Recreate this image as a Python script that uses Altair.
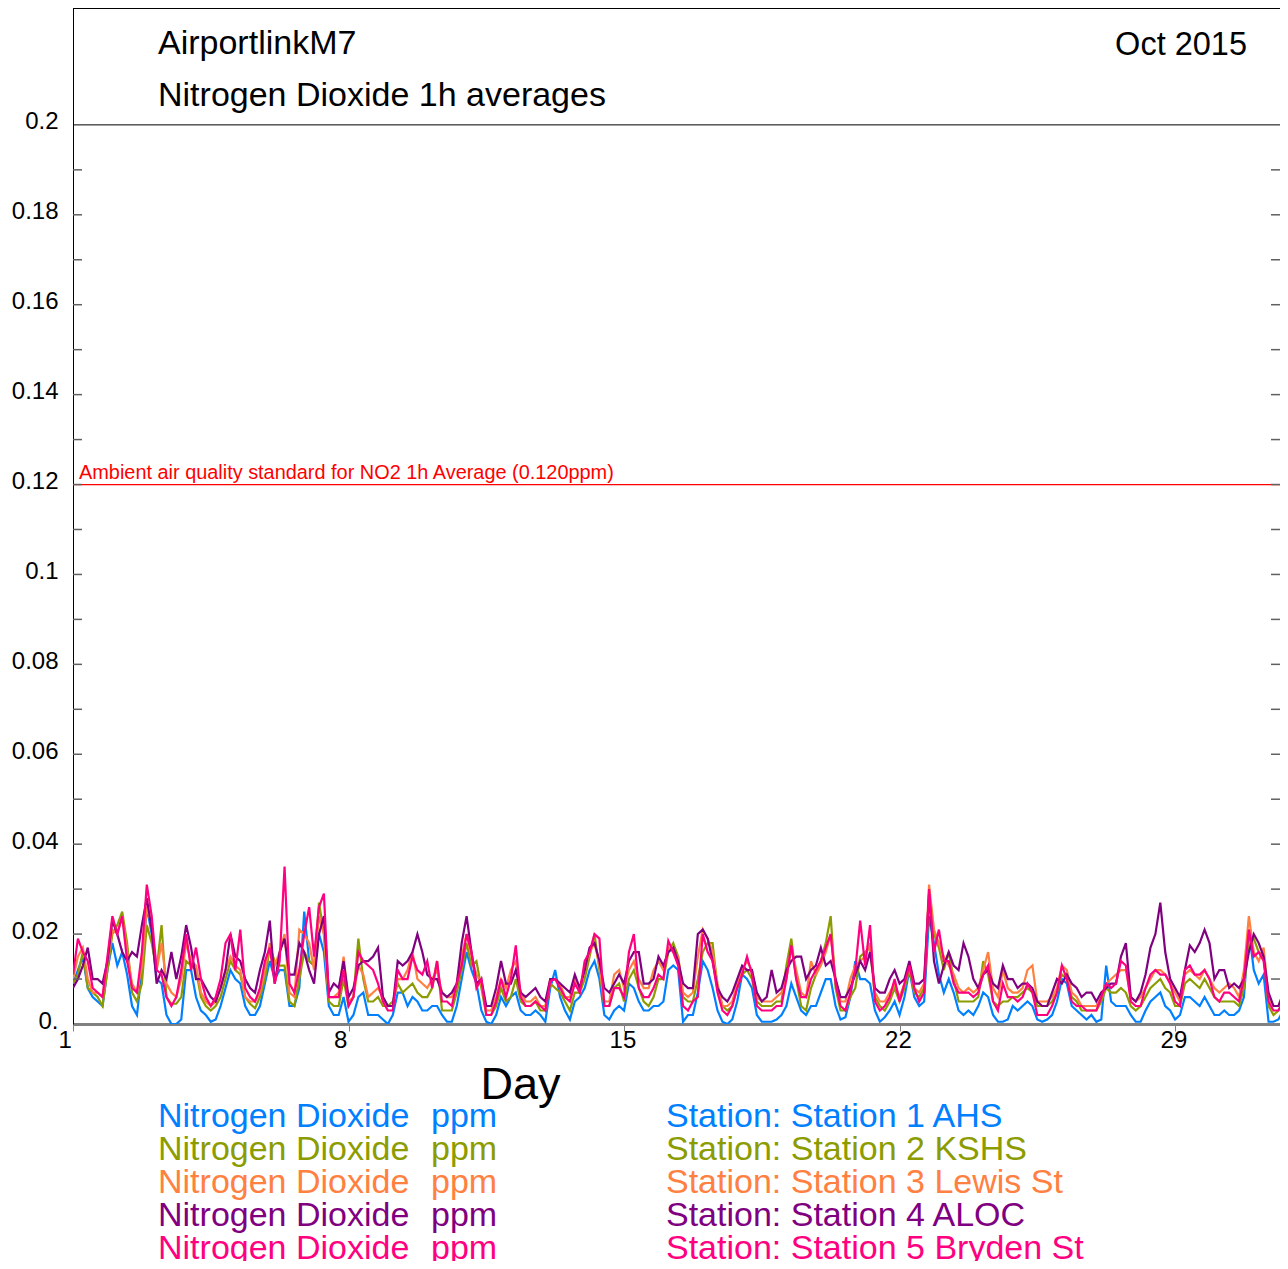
import altair as alt
import pandas as pd

# ---------------- data (3-hourly readings, day = 1 + k/8) ----------------
STATIONS = ["Station 1 AHS", "Station 2 KSHS", "Station 3 Lewis St",
            "Station 4 ALOC", "Station 5 Bryden St"]
COLORS = ["#0080FF", "#8C9C00", "#FF8040", "#800080", "#FF0080"]

S1 = [0.009, 0.012, 0.015, 0.008, 0.006, 0.005, 0.004, 0.012, 0.018, 0.013, 0.016, 0.011, 0.004, 0.002, 0.012, 0.026, 0.02, 0.01, 0.009, 0.002, 0.0, 0.0, 0.001, 0.012, 0.012, 0.006, 0.003, 0.002, 0.0005, 0.001, 0.004, 0.008, 0.012, 0.01, 0.009, 0.004, 0.002, 0.002, 0.004, 0.009, 0.014, 0.01,
      0.012, 0.012, 0.004, 0.004, 0.008, 0.025, 0.014, 0.013, 0.02, 0.016, 0.004, 0.002, 0.002, 0.006, 0.0005, 0.002, 0.006, 0.007, 0.002, 0.002, 0.002, 0.001, 0.0, 0.002, 0.007, 0.007, 0.004, 0.006, 0.005, 0.003, 0.003, 0.004, 0.004, 0.002, 0.0005, 0.0005, 0.004, 0.01, 0.016, 0.012, 0.009,
      0.003, 0.0005, 0.0, 0.002, 0.006, 0.004, 0.006, 0.007, 0.003, 0.002, 0.002, 0.003, 0.002, 0.0005, 0.008, 0.012, 0.006, 0.003, 0.001, 0.005, 0.006, 0.008, 0.012, 0.014, 0.01, 0.002, 0.001, 0.003, 0.004, 0.003, 0.009, 0.008, 0.005, 0.003, 0.003, 0.004, 0.004, 0.005, 0.012, 0.013, 0.012,
      0.0005, 0.002, 0.002, 0.007, 0.014, 0.012, 0.008, 0.003, 0.0005, 0.0, 0.001, 0.005, 0.011, 0.01, 0.008, 0.002, 0.0005, 0.0005, 0.0005, 0.001, 0.002, 0.004, 0.009, 0.006, 0.003, 0.002, 0.004, 0.004, 0.007, 0.01, 0.01, 0.004, 0.001, 0.0015, 0.006, 0.014, 0.01, 0.01, 0.009, 0.003, 0.0005,
      0.0015, 0.003, 0.005, 0.002, 0.006, 0.012, 0.006, 0.004, 0.005, 0.024, 0.018, 0.011, 0.007, 0.01, 0.007, 0.003, 0.002, 0.003, 0.002, 0.004, 0.007, 0.006, 0.002, 0.0005, 0.0005, 0.001, 0.004, 0.003, 0.004, 0.005, 0.004, 0.001, 0.0005, 0.001, 0.002, 0.005, 0.01, 0.009, 0.004, 0.003,
      0.002, 0.001, 0.002, 0.0005, 0.001, 0.013, 0.005, 0.004, 0.004, 0.004, 0.002, 0.0005, 0.0005, 0.003, 0.005, 0.006, 0.007, 0.004, 0.003, 0.001, 0.002, 0.006, 0.006, 0.005, 0.004, 0.006, 0.004, 0.002, 0.002, 0.003, 0.002, 0.002, 0.003, 0.006, 0.021, 0.012, 0.009, 0.011, 0.0005, 0.0005, 0.001, 0.003, 0.005]

S2 = [0.009, 0.011, 0.016, 0.008, 0.007, 0.006, 0.004, 0.012, 0.02, 0.022, 0.025, 0.018, 0.007, 0.005, 0.009, 0.022, 0.018, 0.012, 0.022, 0.006, 0.0045, 0.0045, 0.006, 0.014, 0.013, 0.012, 0.006, 0.004, 0.003, 0.004, 0.006, 0.01, 0.014, 0.012, 0.011, 0.006, 0.0045, 0.0035, 0.006, 0.01, 0.017, 0.014,
      0.013, 0.013, 0.005, 0.004, 0.01, 0.016, 0.014, 0.013, 0.027, 0.02, 0.005, 0.004, 0.004, 0.01, 0.004, 0.006, 0.019, 0.01, 0.005, 0.005, 0.006, 0.004, 0.004, 0.005, 0.009, 0.007, 0.008, 0.009, 0.007, 0.006, 0.006, 0.008, 0.014, 0.003, 0.003, 0.003, 0.007, 0.012, 0.018, 0.013, 0.014,
      0.008, 0.002, 0.002, 0.004, 0.008, 0.005, 0.006, 0.01, 0.005, 0.004, 0.004, 0.005, 0.003, 0.003, 0.009, 0.008, 0.007, 0.005, 0.003, 0.007, 0.007, 0.01, 0.015, 0.02, 0.012, 0.004, 0.004, 0.008, 0.009, 0.005, 0.01, 0.012, 0.008, 0.005, 0.004, 0.006, 0.01, 0.01, 0.016, 0.018, 0.015,
      0.006, 0.005, 0.005, 0.01, 0.016, 0.018, 0.018, 0.008, 0.004, 0.003, 0.004, 0.008, 0.011, 0.012, 0.01, 0.005, 0.004, 0.004, 0.004, 0.005, 0.005, 0.013, 0.019, 0.01, 0.004, 0.003, 0.008, 0.011, 0.014, 0.018, 0.024, 0.008, 0.003, 0.003, 0.006, 0.008, 0.015, 0.016, 0.017, 0.006, 0.004,
      0.003, 0.005, 0.008, 0.005, 0.008, 0.012, 0.007, 0.006, 0.008, 0.028, 0.02, 0.017, 0.012, 0.016, 0.01, 0.005, 0.005, 0.005, 0.005, 0.006, 0.014, 0.011, 0.005, 0.004, 0.005, 0.005, 0.006, 0.006, 0.007, 0.008, 0.007, 0.004, 0.004, 0.004, 0.005, 0.007, 0.011, 0.01, 0.006, 0.005,
      0.003, 0.003, 0.003, 0.003, 0.005, 0.008, 0.007, 0.007, 0.008, 0.007, 0.004, 0.003, 0.004, 0.006, 0.008, 0.009, 0.01, 0.008, 0.007, 0.004, 0.004, 0.009, 0.01, 0.009, 0.008, 0.01, 0.008, 0.006, 0.005, 0.005, 0.005, 0.005, 0.004, 0.008, 0.018, 0.019, 0.016, 0.015, 0.004, 0.002, 0.003, 0.005, 0.008]

S3 = [0.01, 0.015, 0.017, 0.01, 0.007, 0.007, 0.006, 0.014, 0.021, 0.02, 0.024, 0.016, 0.009, 0.007, 0.013, 0.026, 0.022, 0.012, 0.018, 0.009, 0.007, 0.006, 0.01, 0.018, 0.014, 0.013, 0.007, 0.005, 0.004, 0.005, 0.008, 0.012, 0.015, 0.013, 0.012, 0.006, 0.005, 0.005, 0.007, 0.012, 0.018, 0.013,
      0.016, 0.02, 0.007, 0.006, 0.021, 0.02, 0.018, 0.012, 0.024, 0.02, 0.006, 0.006, 0.007, 0.015, 0.005, 0.006, 0.013, 0.011, 0.006, 0.007, 0.008, 0.006, 0.004, 0.004, 0.01, 0.01, 0.012, 0.016, 0.01, 0.009, 0.008, 0.01, 0.012, 0.007, 0.006, 0.006, 0.009, 0.015, 0.02, 0.015, 0.011,
      0.009, 0.003, 0.003, 0.006, 0.01, 0.008, 0.012, 0.014, 0.007, 0.005, 0.005, 0.006, 0.004, 0.004, 0.01, 0.01, 0.009, 0.006, 0.006, 0.01, 0.008, 0.012, 0.016, 0.018, 0.013, 0.005, 0.005, 0.011, 0.012, 0.008, 0.012, 0.014, 0.01, 0.008, 0.008, 0.012, 0.014, 0.012, 0.017, 0.016, 0.015,
      0.007, 0.006, 0.007, 0.015, 0.021, 0.019, 0.016, 0.009, 0.004, 0.004, 0.005, 0.009, 0.012, 0.014, 0.012, 0.006, 0.005, 0.005, 0.005, 0.006, 0.007, 0.01, 0.017, 0.012, 0.007, 0.006, 0.014, 0.011, 0.013, 0.016, 0.02, 0.01, 0.005, 0.005, 0.01, 0.013, 0.014, 0.015, 0.018, 0.007, 0.005,
      0.005, 0.007, 0.009, 0.006, 0.009, 0.013, 0.008, 0.007, 0.009, 0.031, 0.021, 0.018, 0.015, 0.013, 0.011, 0.008, 0.007, 0.008, 0.007, 0.008, 0.012, 0.016, 0.008, 0.006, 0.012, 0.008, 0.007, 0.007, 0.008, 0.012, 0.013, 0.005, 0.005, 0.005, 0.006, 0.008, 0.013, 0.012, 0.007, 0.006,
      0.004, 0.004, 0.004, 0.004, 0.006, 0.009, 0.01, 0.011, 0.012, 0.012, 0.006, 0.005, 0.006, 0.008, 0.01, 0.012, 0.012, 0.011, 0.009, 0.007, 0.005, 0.011, 0.012, 0.011, 0.01, 0.012, 0.01, 0.008, 0.007, 0.008, 0.009, 0.008, 0.006, 0.012, 0.024, 0.016, 0.014, 0.017, 0.006, 0.004, 0.004, 0.006, 0.009]

S4 = [0.008, 0.01, 0.013, 0.017, 0.01, 0.01, 0.009, 0.014, 0.023, 0.02, 0.016, 0.014, 0.016, 0.015, 0.022, 0.028, 0.021, 0.009, 0.012, 0.01, 0.016, 0.01, 0.015, 0.022, 0.017, 0.01, 0.01, 0.008, 0.006, 0.005, 0.008, 0.012, 0.02, 0.015, 0.014, 0.01, 0.008, 0.007, 0.012, 0.016, 0.023, 0.009,
      0.016, 0.019, 0.011, 0.011, 0.018, 0.016, 0.012, 0.009, 0.02, 0.024, 0.007, 0.009, 0.008, 0.014, 0.006, 0.008, 0.013, 0.014, 0.014, 0.015, 0.017, 0.006, 0.004, 0.004, 0.014, 0.013, 0.014, 0.016, 0.02, 0.016, 0.011, 0.01, 0.01, 0.007, 0.006, 0.007, 0.009, 0.018, 0.024, 0.016, 0.009,
      0.01, 0.004, 0.004, 0.008, 0.014, 0.009, 0.009, 0.012, 0.007, 0.006, 0.007, 0.008, 0.006, 0.005, 0.01, 0.01, 0.009, 0.008, 0.007, 0.011, 0.008, 0.012, 0.017, 0.018, 0.014, 0.008, 0.007, 0.009, 0.011, 0.009, 0.014, 0.016, 0.016, 0.009, 0.009, 0.01, 0.015, 0.013, 0.016, 0.017, 0.014,
      0.009, 0.008, 0.008, 0.02, 0.021, 0.019, 0.014, 0.008, 0.006, 0.005, 0.007, 0.01, 0.013, 0.012, 0.012, 0.007, 0.005, 0.006, 0.012, 0.007, 0.008, 0.012, 0.014, 0.015, 0.015, 0.01, 0.012, 0.013, 0.017, 0.013, 0.014, 0.01, 0.006, 0.006, 0.008, 0.011, 0.014, 0.012, 0.016, 0.008, 0.007,
      0.007, 0.01, 0.012, 0.009, 0.01, 0.014, 0.009, 0.009, 0.01, 0.029, 0.014, 0.009, 0.013, 0.016, 0.013, 0.012, 0.018, 0.015, 0.01, 0.008, 0.011, 0.012, 0.009, 0.008, 0.013, 0.01, 0.01, 0.008, 0.009, 0.009, 0.008, 0.005, 0.004, 0.004, 0.007, 0.01, 0.009, 0.011, 0.009, 0.008,
      0.006, 0.007, 0.007, 0.005, 0.007, 0.008, 0.009, 0.009, 0.015, 0.018, 0.006, 0.005, 0.007, 0.011, 0.017, 0.02, 0.027, 0.016, 0.01, 0.008, 0.006, 0.012, 0.0175, 0.016, 0.018, 0.021, 0.018, 0.01, 0.012, 0.012, 0.008, 0.009, 0.008, 0.01, 0.016, 0.02, 0.018, 0.015, 0.007, 0.004, 0.004, 0.007, 0.012]

S5 = [0.011, 0.019, 0.016, 0.014, 0.008, 0.007, 0.006, 0.015, 0.024, 0.02, 0.024, 0.014, 0.008, 0.007, 0.016, 0.031, 0.024, 0.012, 0.011, 0.006, 0.004, 0.006, 0.012, 0.02, 0.012, 0.017, 0.01, 0.006, 0.004, 0.006, 0.01, 0.018, 0.02, 0.012, 0.021, 0.008, 0.006, 0.005, 0.008, 0.014, 0.017, 0.009,
      0.014, 0.035, 0.009, 0.007, 0.012, 0.02, 0.026, 0.015, 0.026, 0.029, 0.006, 0.006, 0.006, 0.012, 0.004, 0.006, 0.016, 0.014, 0.013, 0.012, 0.009, 0.005, 0.003, 0.003, 0.012, 0.01, 0.01, 0.015, 0.012, 0.011, 0.014, 0.008, 0.014, 0.005, 0.005, 0.004, 0.009, 0.013, 0.02, 0.016, 0.008,
      0.01, 0.002, 0.002, 0.005, 0.01, 0.006, 0.01, 0.0175, 0.006, 0.004, 0.004, 0.005, 0.004, 0.003, 0.0095, 0.01, 0.008, 0.006, 0.005, 0.009, 0.007, 0.014, 0.016, 0.02, 0.019, 0.004, 0.004, 0.008, 0.008, 0.006, 0.016, 0.02, 0.008, 0.006, 0.006, 0.008, 0.011, 0.01, 0.0185, 0.016, 0.013,
      0.004, 0.003, 0.005, 0.006, 0.02, 0.016, 0.014, 0.007, 0.003, 0.002, 0.004, 0.008, 0.011, 0.015, 0.011, 0.004, 0.003, 0.003, 0.003, 0.004, 0.004, 0.01, 0.0175, 0.01, 0.006, 0.006, 0.01, 0.012, 0.014, 0.017, 0.02, 0.009, 0.004, 0.003, 0.007, 0.012, 0.023, 0.013, 0.022, 0.005, 0.003,
      0.004, 0.006, 0.01, 0.005, 0.009, 0.013, 0.008, 0.005, 0.007, 0.03, 0.016, 0.021, 0.014, 0.014, 0.009, 0.007, 0.007, 0.007, 0.006, 0.007, 0.011, 0.013, 0.005, 0.003, 0.009, 0.006, 0.006, 0.005, 0.006, 0.009, 0.007, 0.002, 0.002, 0.002, 0.004, 0.007, 0.013, 0.01, 0.005, 0.004,
      0.004, 0.003, 0.003, 0.003, 0.006, 0.009, 0.008, 0.009, 0.014, 0.013, 0.005, 0.004, 0.004, 0.008, 0.011, 0.012, 0.011, 0.011, 0.009, 0.005, 0.004, 0.012, 0.013, 0.011, 0.011, 0.012, 0.01, 0.006, 0.005, 0.007, 0.007, 0.006, 0.005, 0.01, 0.021, 0.015, 0.016, 0.014, 0.005, 0.003, 0.003, 0.005, 0.01]

DAY_TICKS = [1, 8, 15, 22, 29]
Y_LABELS = [0, 0.02, 0.04, 0.06, 0.08, 0.1, 0.12, 0.14, 0.16, 0.18, 0.2]
FRAME_TICKS = [0.01, 0.02, 0.03, 0.04, 0.05, 0.06, 0.07, 0.08, 0.09, 0.1,
               0.11, 0.12, 0.13, 0.14, 0.15, 0.16, 0.17, 0.18, 0.19]
STANDARD = 0.12
TOP_LINE = 0.2
STEPS_PER_DAY = 8

# ---------------- layout ----------------
# svg must stay within 1272 x 1253 so the page never overflows the window
W, H = 1207, 1016
X_DOMAIN = [1, 31.666]
Y_DOMAIN = [0, 0.226]
FONT = "Liberation Sans"

rows = []
for name, vals in zip(STATIONS, [S1, S2, S3, S4, S5]):
    for k, v in enumerate(vals):
        rows.append({"station": name, "day": 1 + k / STEPS_PER_DAY, "no2": v})
df = pd.DataFrame(rows)

xs = alt.Scale(domain=X_DOMAIN, nice=False, zero=False)
ys = alt.Scale(domain=Y_DOMAIN, nice=False, zero=False)
cs = alt.Scale(domain=STATIONS, range=COLORS)
one = alt.Data(values=[{"a": 1}])

lines = alt.Chart(df).mark_line(strokeWidth=2.2, clip=True).encode(
    x=alt.X("day:Q", scale=xs, axis=alt.Axis(
        orient="bottom", values=DAY_TICKS, format="d", grid=False,
        domainColor="#808080", domainWidth=3,
        tickColor="#808080", tickWidth=1, tickSize=7,
        labelFontSize=24, labelColor="black", labelFont=FONT,
        labelAlign="left", labelOffset=-15, labelBaseline="alphabetic",
        labelPadding=16, labelFlush=False, labelOverlap=False,
        title="Day", titleFontSize=45, titleFontWeight="normal", titleColor="black",
        titleFont=FONT, titleX=447, titleY=74, titleAlign="center",
        titleBaseline="alphabetic")),
    y=alt.Y("no2:Q", scale=ys, axis=alt.Axis(
        orient="left", values=Y_LABELS, grid=False, ticks=False,
        labelExpr="datum.value == 0 ? '0.' : format(datum.value, '.2~f')",
        domainColor="black", domainWidth=1,
        labelFontSize=24, labelColor="black", labelFont=FONT,
        labelPadding=15, labelBaseline="middle", labelOffset=-3,
        labelFlush=False, labelOverlap=False, title=None)),
    color=alt.Color("station:N", scale=cs, legend=None),
    order=alt.Order("day:Q"),
)

top_rule = alt.Chart(one).mark_rule(color="black", stroke="black", strokeWidth=1).encode(
    y=alt.value(0.5))
line02 = alt.Chart(one).mark_rule(color="black", stroke="black", strokeWidth=1).encode(
    y=alt.YDatum(TOP_LINE))
std_rule = alt.Chart(one).mark_rule(color="#FF0000", stroke="#FF0000", strokeWidth=1.2).encode(
    y=alt.YDatum(STANDARD))
std_text = alt.Chart(one).mark_text(
    text="Ambient air quality standard for NO2 1h Average (0.120ppm)",
    color="#FF0000", fontSize=19.9, font=FONT, align="left",
    baseline="alphabetic", dy=-6).encode(
    x=alt.value(6), y=alt.YDatum(STANDARD))

ticks_df = pd.DataFrame({"v": FRAME_TICKS})
left_ticks = alt.Chart(ticks_df).mark_rule(color="#606060", strokeWidth=1.5).encode(
    y=alt.Y("v:Q"), x=alt.value(0), x2=alt.value(9))
right_ticks = alt.Chart(ticks_df).mark_rule(color="#606060", strokeWidth=1.5).encode(
    y=alt.Y("v:Q"), x=alt.value(W - 9), x2=alt.value(W))


def label(txt, x, y, size=34, align="left"):
    return alt.Chart(one).mark_text(
        text=txt, fontSize=size, font=FONT, color="black", align=align,
        baseline="alphabetic").encode(x=alt.value(x), y=alt.value(y))


t1 = label("AirportlinkM7", 85, 46)
t2 = label("Nitrogen Dioxide 1h averages", 85, 98)
t3 = label("Oct 2015", 1174, 47, size=32.5, align="right")

leg_df = pd.DataFrame({"station": STATIONS, "idx": list(range(len(STATIONS)))})
leg_base = alt.Chart(leg_df).transform_calculate(
    py="1119 + datum.idx * 33", lab="'Station: ' + datum.station")


def leg_text(x, text_enc=None, txt=None):
    kw = dict(fontSize=34, font=FONT, align="left", baseline="alphabetic")
    if txt is not None:
        kw["text"] = txt
    enc = dict(x=alt.value(x), y=alt.Y("py:Q", scale=None, axis=None),
               color=alt.Color("station:N", scale=cs, legend=None))
    if text_enc is not None:
        enc["text"] = text_enc
    return leg_base.mark_text(**kw).encode(**enc)


leg1 = leg_text(85, txt="Nitrogen Dioxide")
leg2 = leg_text(358, txt="ppm")
leg3 = leg_text(593, text_enc=alt.Text("lab:N"))

chart = alt.layer(
    lines, top_rule, line02, std_rule, std_text, left_ticks, right_ticks,
    t1, t2, t3, leg1, leg2, leg3,
).properties(
    width=W, height=H,
    autosize=alt.AutoSizeParams(type="none"),
    padding={"left": 65, "top": 0, "right": 0, "bottom": 237},
).configure(font=FONT).configure_view(stroke=None)

chart.save("out.html", embed_options={"renderer": "svg", "actions": False})
